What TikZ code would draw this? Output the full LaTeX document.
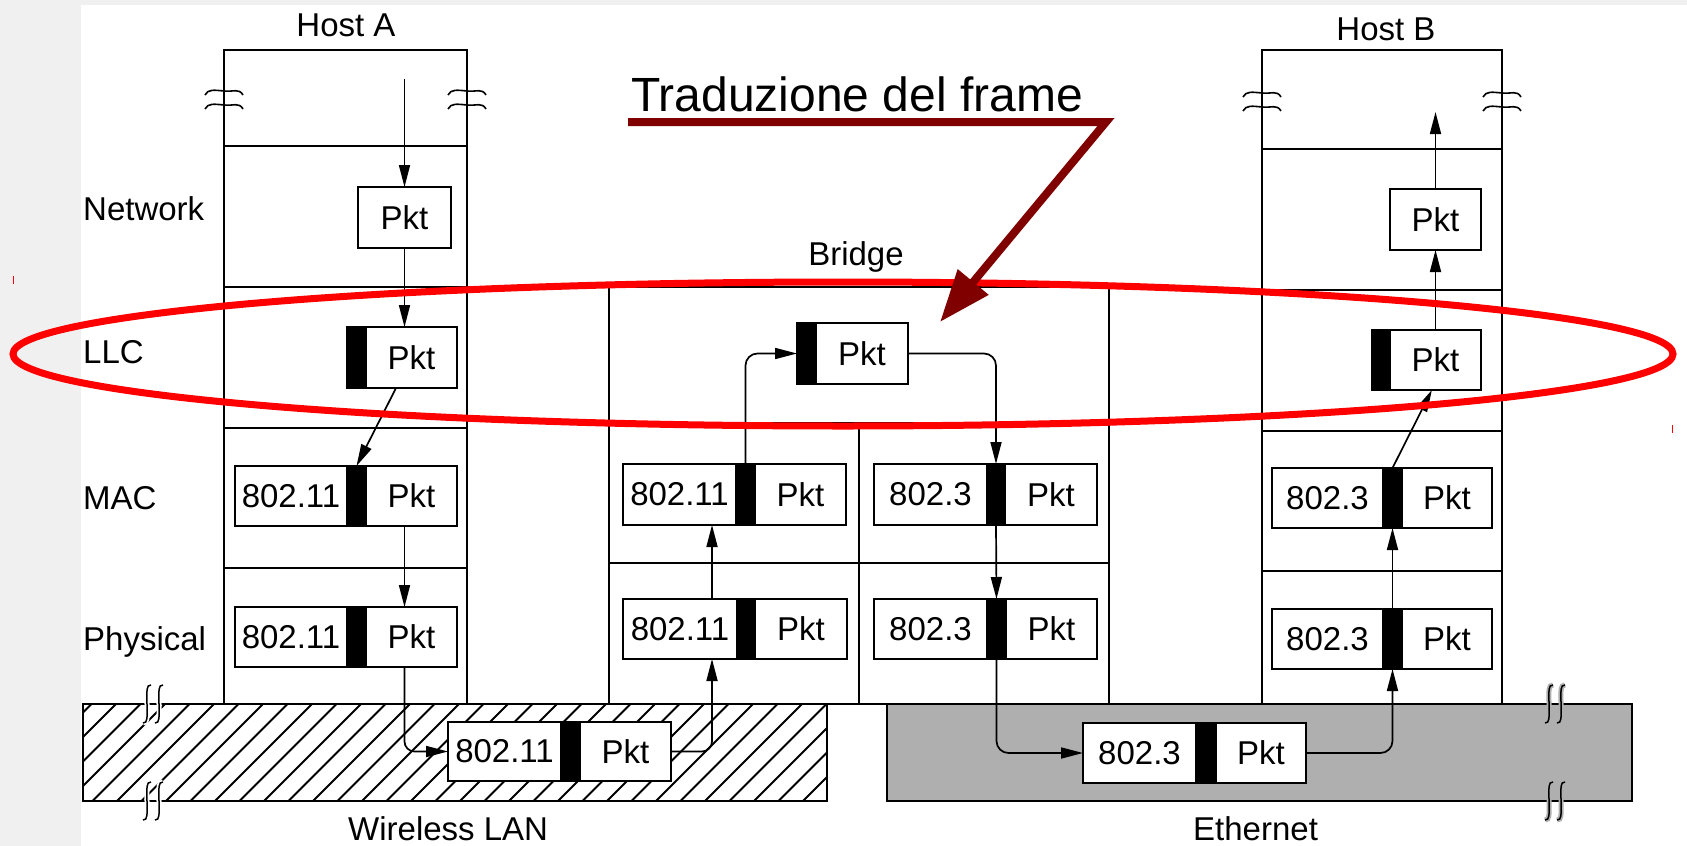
\documentclass[tikz,border=0pt]{standalone}
\usepackage{fontspec}
\setmainfont{Liberation Sans}
\usetikzlibrary{arrows.meta,calc}
\definecolor{annred}{HTML}{800000}
\definecolor{ethgray}{HTML}{AFAFAF}
\definecolor{bggray}{HTML}{F0F0F0}

% name, x1, xb1, xb2, x2, ytop, ybot, header text
\newcommand{\pktframe}[8]{%
  \node[fh, minimum width={#3-#2}, minimum height={#7-#6}] (#1h) at ({(#2+#3)/2},{(#6+#7)/2}) {#8};
  \node[fb, minimum width={#4-#3}, minimum height={#7-#6}] (#1b) at ({(#3+#4)/2},{(#6+#7)/2}) {};
  \node[fh, minimum width={#5-#4}, minimum height={#7-#6}] (#1p) at ({(#4+#5)/2},{(#6+#7)/2}) {Pkt};
}
% name, xb1, xb2, x2, ytop, ybot
\newcommand{\llcframe}[6]{%
  \node[fb, minimum width={#3-#2}, minimum height={#6-#5}] (#1b) at ({(#2+#3)/2},{(#5+#6)/2}) {};
  \node[fh, minimum width={#4-#3}, minimum height={#6-#5}] (#1p) at ({(#3+#4)/2},{(#5+#6)/2}) {Pkt};
}
% wavy horizontal break mark crossing a vertical edge at (x,y)
\newcommand{\hbreak}[2]{%
  \draw[line width=1.6pt] ({#1-19},{#2+3}) .. controls ({#1-16},{#2-3}) and ({#1-10},{#2-2}) .. ({#1},{#2-1}) .. controls ({#1+10},{#2}) and ({#1+15},{#2-4}) .. ({#1+19},{#2+3});
}
% pair of vertical integral-like marks crossing a horizontal edge at (x,y)
\newcommand{\vbreak}[3]{%
  \foreach \dx in {-6,6}{
    \draw[#3, line width=5pt] ({#1+\dx+4},{#2-19}) .. controls ({#1+\dx-1},{#2-19}) and ({#1+\dx},{#2-14}) .. ({#1+\dx},{#2}) .. controls ({#1+\dx},{#2+14}) and ({#1+\dx+1},{#2+19}) .. ({#1+\dx-4},{#2+19});
    \draw[line width=1.5pt] ({#1+\dx+4},{#2-19}) .. controls ({#1+\dx-1},{#2-19}) and ({#1+\dx},{#2-14}) .. ({#1+\dx},{#2}) .. controls ({#1+\dx},{#2+14}) and ({#1+\dx+1},{#2+19}) .. ({#1+\dx-4},{#2+19});
  }
}

\tikzset{
  fh/.style={draw, line width=1.8pt, fill=white, inner sep=0pt, outer sep=0pt, font=\fontsize{33}{40}\selectfont},
  fb/.style={draw, line width=1.8pt, fill=black, inner sep=0pt, outer sep=0pt},
  arr/.style={line width=1.7pt, -{Triangle[length=22pt,width=11pt]}},
  lbl/.style={inner sep=0pt, font=\fontsize{33}{40}\selectfont},
  layer/.style={line width=1.8pt},
}

\begin{document}
\begin{tikzpicture}[x=1pt,y=-1pt]
\useasboundingbox (0,0) rectangle (1687,846);
% slide background
\fill[bggray] (0,0) rectangle (1687,846);
\fill[white] (81,5) rectangle (1687,846);

% Wireless LAN (hatched)
\begin{scope}
  \clip (83,704) rectangle (827,801);
  \foreach \k in {-8,...,28} \draw[line width=1.8pt] ({263+\k*24.5-97},801) -- ++(97,-97);
\end{scope}
\draw[layer] (83,704) rectangle (827,801);
% Ethernet (grey)
\draw[layer, fill=ethgray] (887,704) rectangle (1632,801);

% break marks on the LANs
\vbreak{153}{704}{white}
\vbreak{153}{801}{white}
\vbreak{1555}{704}{ethgray}
\vbreak{1555}{801}{ethgray}

% Host A stack
\draw[layer] (224,50) rectangle (467,704);
\foreach \y in {146,287,428,568} \draw[layer] (224,\y) -- (467,\y);
% Host B stack
\draw[layer] (1262,50) rectangle (1502,704);
\foreach \y in {149,290,431,571} \draw[layer] (1262,\y) -- (1502,\y);
% Bridge
\draw[layer] (609,287) rectangle (1109,704);
\draw[layer] (609,423) -- (1109,423);
\draw[layer] (609,563) -- (1109,563);
\draw[layer] (859,423) -- (859,704);

% break marks on the hosts
\hbreak{224}{92}\hbreak{224}{106}
\hbreak{467}{92}\hbreak{467}{106}
\hbreak{1262}{94}\hbreak{1262}{108}
\hbreak{1502}{94}\hbreak{1502}{108}

% frames
\node[fh, minimum width=93, minimum height=61] (hAnet) at (404.5,217.5) {Pkt};
\llcframe{hAllc}{347}{366}{457}{327}{388}
\pktframe{hAmac}{235}{347}{366}{457}{466}{526}{802.11}
\pktframe{hAphy}{235}{347}{366}{457}{607}{667}{802.11}
\pktframe{lan}{448}{561}{580}{671}{722}{781}{802.11}
\llcframe{bllc}{797}{816}{908}{323}{384}
\pktframe{bmacL}{623}{736}{755}{846}{464}{525}{802.11}
\pktframe{bmacR}{874}{987}{1005}{1097}{464}{525}{802.3}
\pktframe{bphyL}{623}{737}{755}{847}{599}{659}{802.11}
\pktframe{bphyR}{874}{987}{1006}{1097}{599}{659}{802.3}
\pktframe{eth}{1083}{1196}{1216}{1306}{723}{783}{802.3}
\pktframe{hBphy}{1272}{1383}{1402}{1492}{609}{669}{802.3}
\pktframe{hBmac}{1272}{1383}{1402}{1492}{468}{528}{802.3}
\llcframe{hBllc}{1372}{1390}{1481}{330}{390}
\node[fh, minimum width=91, minimum height=61] (hBnet) at (1435.5,219.5) {Pkt};

% connectors
\coordinate (hAstart) at (404.5,79);
\coordinate (hBtop) at (1435.5,112);
\draw[arr] (hAstart) -- (hAnet.north);
\draw[arr] (hAnet.south) -- (hAnet.south |- hAllcp.north);
\draw[arr] ($(hAllcp.south west)!0.33!(hAllcp.south east)$) -- (hAmacb.north);
\draw[arr] (hAmacp.south -| hAnet.south) -- (hAphyp.north -| hAnet.south);
\draw[arr, rounded corners=10pt] (hAphyp.south -| hAnet.south) |- (lanh.west);
\draw[arr, rounded corners=10pt] (lanp.east) -| ($(bphyLh.south east)+(-25,0)$);
\draw[arr] ($(bphyLh.north east)+(-25,0)$) -- ($(bmacLh.south east)+(-24,0)$);
\draw[arr, rounded corners=12pt] (bmacLb.north) |- (bllcb.west);
\draw[arr, rounded corners=12pt] (bllcp.east) -| (bmacRb.north);
\draw[arr] (bmacRb.south) -- (bphyRb.north);
\draw[arr, rounded corners=12pt] (bphyRb.south) |- (ethh.west);
\draw[arr, rounded corners=12pt] (ethp.east) -| (hBphyb.south);
\draw[arr] (hBphyb.north) -- (hBmacb.south);
\draw[arr] (hBmacb.north) -- ($(hBllcp.south west)!0.46!(hBllcp.south east)$);
\draw[arr] (hBllcp.north) -- (hBnet.south);
\draw[arr] (hBnet.north) -- (hBtop);

% labels
\node[lbl, anchor=base] (hostA) at (346,36) {Host A};
\node[lbl, anchor=base] (hostB) at (1386,40) {Host B};
\node[lbl, anchor=base west] (lnet) at (83,220) {Network};
\node[lbl, anchor=base west] (lllc) at (83,363) {LLC};
\node[lbl, anchor=base west] (lmac) at (83,509) {MAC};
\node[lbl, anchor=base west] (lphy) at (83,650) {Physical};
\node[lbl, anchor=base] (lbr) at (856,265) {Bridge};
\node[lbl, anchor=base west] (lwl) at (348,840) {Wireless LAN};
\node[lbl, anchor=base west] (leth) at (1193,840) {Ethernet};

% red ellipse highlighting the LLC layer
\draw[red, line width=7pt] (843,354) ellipse [x radius=830, y radius=72];
\draw[red, line width=1pt] (13,276) -- (13,284);
\draw[red, line width=1pt] (1672,425) -- (1672,433);

% annotation
\node[anchor=base west, inner sep=0pt, font=\fontsize{48}{56}\selectfont] (ann) at (631,111) {Traduzione del frame};
\coordinate (annL) at (628,122);
\coordinate (annR) at (1106,122);
\coordinate (annTip) at (940,322);
\draw[annred, line width=8pt, -{Triangle[length=52pt,width=38pt]}] (annL) -- (annR) -- (annTip);
\end{tikzpicture}
\end{document}
